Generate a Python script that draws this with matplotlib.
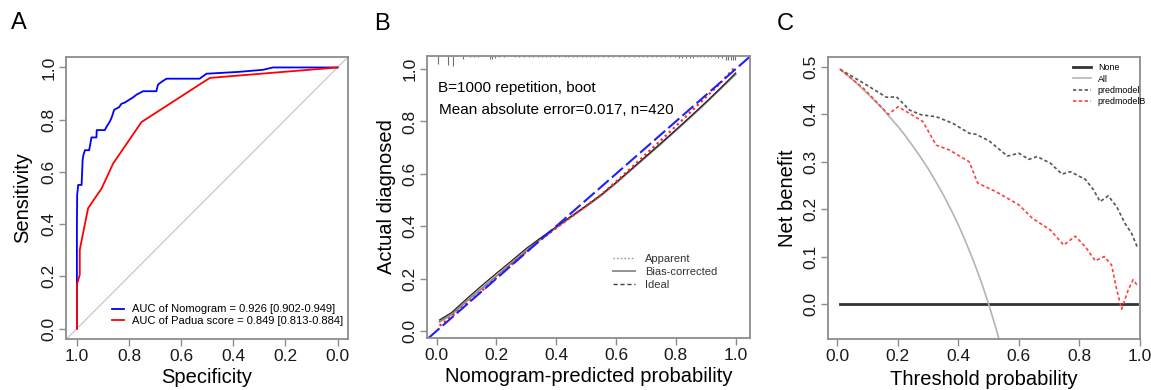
import matplotlib
matplotlib.use('Agg')
import matplotlib.pyplot as plt

plt.rcParams['font.family'] = ['Liberation Sans', 'DejaVu Sans']

# ---- panel A: ROC curves (specificity, sensitivity)
nomo_spec = [1.0, 1.0, 0.999, 0.995, 0.982, 0.978, 0.975, 0.969, 0.96, 0.953, 0.944, 0.935, 0.925,
             0.924, 0.905, 0.893, 0.885, 0.874, 0.866, 0.857, 0.838, 0.829, 0.815, 0.803, 0.785,
             0.771, 0.746, 0.72, 0.695, 0.689, 0.675, 0.656, 0.6, 0.529, 0.503, 0.45, 0.38, 0.286,
             0.248, 0.12, 0.0]
nomo_sens = [0.0, 0.384, 0.511, 0.55, 0.55, 0.645, 0.665, 0.683, 0.683, 0.683, 0.732, 0.732, 0.732,
             0.76, 0.76, 0.76, 0.775, 0.792, 0.81, 0.838, 0.848, 0.861, 0.866, 0.874, 0.885,
             0.896, 0.909, 0.909, 0.909, 0.934, 0.945, 0.957, 0.957, 0.957, 0.976, 0.979, 0.983, 0.991,
             1.0, 1.0, 1.0]
padua_spec = [1.0, 1.0, 0.989, 0.989, 0.957, 0.905, 0.861, 0.752, 0.49, 0.0]
padua_sens = [0.0, 0.168, 0.206, 0.302, 0.461, 0.537, 0.632, 0.791, 0.96, 1.0]
roc_labels = ['AUC of Nomogram = 0.926 [0.902-0.949]', 'AUC of Padua score = 0.849 [0.813-0.884]']

# ---- panel B: calibration
cal_x = [0.01, 0.05, 0.1, 0.15, 0.2, 0.25, 0.3, 0.35, 0.4, 0.45, 0.5, 0.55, 0.6, 0.65, 0.7,
         0.75, 0.8, 0.85, 0.9, 0.95, 1.0]
cal_bias = [0.042, 0.07, 0.122, 0.172, 0.22, 0.267, 0.315, 0.357, 0.398, 0.438, 0.478, 0.52,
            0.567, 0.617, 0.667, 0.717, 0.768, 0.82, 0.873, 0.928, 0.985]
cal_app = [0.035, 0.062, 0.113, 0.162, 0.21, 0.258, 0.306, 0.352, 0.394, 0.435, 0.475, 0.517,
           0.564, 0.614, 0.664, 0.714, 0.765, 0.817, 0.87, 0.925, 0.98]
cal_red = [0.02, 0.055, 0.103, 0.152, 0.203, 0.253, 0.302, 0.35, 0.393, 0.436, 0.478, 0.52,
           0.57, 0.622, 0.675, 0.728, 0.782, 0.837, 0.892, 0.948, 1.01]
rug_x = [0.006, 0.039, 0.056, 0.087, 0.112, 0.125, 0.138, 0.178, 0.184, 0.195, 0.21, 0.226,
         0.262, 0.275, 0.291, 0.31, 0.322, 0.338, 0.352, 0.367, 0.38, 0.395, 0.41, 0.428,
         0.441, 0.455, 0.47, 0.486, 0.5, 0.513, 0.528, 0.541, 0.557, 0.572, 0.59, 0.61, 0.628,
         0.645, 0.66, 0.676, 0.69, 0.705, 0.72, 0.735, 0.75, 0.764, 0.78, 0.796, 0.81, 0.822,
         0.834, 0.846, 0.858, 0.87, 0.882, 0.894, 0.906, 0.918, 0.93, 0.942, 0.955, 0.968,
         0.975, 0.984, 0.991, 0.997]
rug_len = [8, 9, 10, 3, 1, 1, 1, 3, 3, 2, 1, 1,
           1, 1, 1, 1, 1, 1, 1, 1, 1, 1, 1, 1,
           1, 1, 1, 1, 1, 1, 1, 1, 1, 1, 1, 1, 1,
           1, 1, 1, 1, 1, 1, 1, 1, 1, 1, 1, 2, 2,
           2, 2, 2, 1, 1, 1, 1, 1, 1, 2, 2, 4,
           4, 4, 4, 4]
cal_text = ['B=1000 repetition, boot', 'Mean absolute error=0.017, n=420']

# ---- panel C: decision curves
thr_all = [0.01, 0.05, 0.1, 0.15, 0.2, 0.225, 0.25, 0.275, 0.3, 0.325, 0.35, 0.375, 0.4,
           0.425, 0.45, 0.475, 0.5, 0.525, 0.55]
nb_all = [0.495, 0.474, 0.444, 0.412, 0.375, 0.355, 0.333, 0.31, 0.286, 0.259, 0.231, 0.2,
          0.167, 0.13, 0.091, 0.048, 0.0, -0.053, -0.111]
thr_none = [0.01, 0.99]
nb_none = [0.0, 0.0]
thr_m1 = [0.01, 0.087, 0.163, 0.196, 0.239, 0.278, 0.327, 0.382, 0.436, 0.458, 0.502, 0.562,
          0.6, 0.633, 0.66, 0.704, 0.742, 0.77, 0.819, 0.846, 0.868, 0.895, 0.923, 0.95,
          0.972, 0.99]
nb_m1 = [0.495, 0.466, 0.436, 0.437, 0.409, 0.399, 0.395, 0.381, 0.36, 0.358, 0.344, 0.312,
         0.318, 0.305, 0.311, 0.297, 0.274, 0.279, 0.263, 0.241, 0.216, 0.228, 0.205, 0.17,
         0.149, 0.121]
thr_m2 = [0.01, 0.087, 0.169, 0.201, 0.239, 0.283, 0.327, 0.37, 0.436, 0.464, 0.524, 0.6,
          0.644, 0.704, 0.748, 0.786, 0.819, 0.852, 0.882, 0.906, 0.923, 0.939, 0.961, 0.977,
          0.99]
nb_m2 = [0.495, 0.455, 0.4, 0.416, 0.402, 0.385, 0.335, 0.325, 0.3, 0.255, 0.237, 0.209,
         0.181, 0.156, 0.124, 0.143, 0.121, 0.091, 0.1, 0.082, 0.03, -0.011, 0.03, 0.051,
         0.04]
dca_labels = ['None', 'All', 'predmodel', 'predmodelB']

box_col = '#8c8c8c'
txt_col = '#1a1a1a'


def style_axes(ax):
    for s in ax.spines.values():
        s.set_color(box_col)
        s.set_linewidth(1.3)
    ax.tick_params(axis='both', direction='out', length=5, width=1, color=box_col,
                   labelsize=12.5, labelcolor=txt_col, pad=2, top=False, right=False)
    ax.tick_params(axis='y', labelrotation=90)
    for lab in ax.get_yticklabels():
        lab.set_va('center')


fig = plt.figure(figsize=(11.51, 3.9), dpi=100)

# A
ax = fig.add_axes([0.0573, 0.1308, 0.245, 0.723])
ax.axline((1, 0), (0, 1), color='#c8c8c8', lw=0.9)
ax.plot(nomo_spec, nomo_sens, color='#0000ff', lw=1.3, label=roc_labels[0])
ax.plot(padua_spec, padua_sens, color='#ff0000', lw=1.3, label=roc_labels[1])
ax.set_xlim(1.042, -0.04)
ax.set_ylim(-0.04, 1.04)
ax.set_xticks([1.0, 0.8, 0.6, 0.4, 0.2, 0.0])
ax.set_yticks([0.0, 0.2, 0.4, 0.6, 0.8, 1.0])
ax.xaxis.set_major_formatter(matplotlib.ticker.FormatStrFormatter('%.1f'))
ax.yaxis.set_major_formatter(matplotlib.ticker.FormatStrFormatter('%.1f'))
style_axes(ax)
ax.legend(loc='center left', bbox_to_anchor=(0.163, 0.085), borderaxespad=0, borderpad=0,
          frameon=False, fontsize=8, handlelength=1.1, handletextpad=0.7, labelspacing=0.1)
ax.text(-0.152, 0.5, 'Sensitivity', transform=ax.transAxes, rotation=90, ha='center',
        va='center', fontsize=14.5)
ax.text(0.5, -0.135, 'Specificity', transform=ax.transAxes, ha='center', va='center',
        fontsize=14.5)

# B
ax = fig.add_axes([0.371, 0.1333, 0.2806, 0.7231])
ax.vlines(rug_x, [1 - l / 282 for l in rug_len], 1, transform=ax.get_xaxis_transform(),
          color='#707070', lw=0.8)
ax.plot(cal_x, cal_app, color='#8a8a8a', lw=1.3)
ax.plot(cal_x, cal_bias, color='#202020', lw=0.9)
ax.plot(cal_x, cal_red, color='#ff2020', lw=1.6, ls=(0, (1, 1.5)))
ax.axline((0, 0), slope=1, color='#2020ff', lw=1.5, ls=(0, (7, 2)))
ax.plot([], [], color='#8a8a8a', lw=1, ls=':', label='Apparent')
ax.plot([], [], color='#8a8a8a', lw=1.3, label='Bias-corrected')
ax.plot([], [], color='#404040', lw=1, ls=(0, (3, 2)), label='Ideal')
ax.set_xlim(-0.032, 1.048)
ax.set_ylim(-0.027, 1.05)
ax.set_xticks([0.0, 0.2, 0.4, 0.6, 0.8, 1.0])
ax.set_yticks([0.0, 0.2, 0.4, 0.6, 0.8, 1.0])
ax.xaxis.set_major_formatter(matplotlib.ticker.FormatStrFormatter('%.1f'))
ax.yaxis.set_major_formatter(matplotlib.ticker.FormatStrFormatter('%.1f'))
style_axes(ax)
leg = ax.legend(loc='center left', bbox_to_anchor=(0.576, 0.234), borderaxespad=0, borderpad=0,
                frameon=False, fontsize=8, handlelength=2.0, handletextpad=0.9, labelspacing=0.26)
for t in leg.get_texts():
    t.set_color('#333333')
ax.text(0.034, 0.887, cal_text[0], transform=ax.transAxes, ha='left', va='center', fontsize=11)
ax.text(0.037, 0.809, cal_text[1], transform=ax.transAxes, ha='left', va='center', fontsize=11)
ax.text(-0.124, 0.5, 'Actual diagnosed', transform=ax.transAxes, rotation=90, ha='center',
        va='center', fontsize=14.5)
ax.text(0.5, -0.138, 'Nomogram-predicted probability', transform=ax.transAxes, ha='center',
        va='center', fontsize=14.5)

# C
ax = fig.add_axes([0.7194, 0.1308, 0.2711, 0.723])
ax.plot(thr_none, nb_none, color='#333333', lw=2, label=dca_labels[0])
ax.plot(thr_all, nb_all, color='#b4b4b4', lw=1.2, label=dca_labels[1])
ax.plot(thr_m1, nb_m1, color='#555555', lw=1.2, ls=(0, (2, 1.5)), label=dca_labels[2])
ax.plot(thr_m2, nb_m2, color='#ff4040', lw=1.2, ls=(0, (2, 1.5)), label=dca_labels[3])
ax.set_xlim(-0.03, 0.993)
ax.set_ylim(-0.074, 0.521)
ax.set_xticks([0.0, 0.2, 0.4, 0.6, 0.8, 1.0])
ax.set_yticks([0.0, 0.1, 0.2, 0.3, 0.4, 0.5])
ax.xaxis.set_major_formatter(matplotlib.ticker.FormatStrFormatter('%.1f'))
ax.yaxis.set_major_formatter(matplotlib.ticker.FormatStrFormatter('%.1f'))
style_axes(ax)
for lab in ax.get_xticklabels():
    lab.set_clip_on(False)
ax.legend(loc='center left', bbox_to_anchor=(0.785, 0.902), borderaxespad=0, borderpad=0,
          frameon=False, fontsize=6.4, handlelength=2.0, handletextpad=0.8, labelspacing=0.24)
ax.text(-0.131, 0.5, 'Net benefit', transform=ax.transAxes, rotation=90, ha='center',
        va='center', fontsize=14.5)
ax.text(0.5, -0.145, 'Threshold probability', transform=ax.transAxes, ha='center',
        va='center', fontsize=14.5)

# panel letters
fig.text(19 / 1151, 1 - 23 / 390, 'A', ha='center', va='center', fontsize=17)
fig.text(382 / 1151, 1 - 24 / 390, 'B', ha='center', va='center', fontsize=17)
fig.text(785 / 1151, 1 - 24 / 390, 'C', ha='center', va='center', fontsize=17)

fig.savefig('out.png', dpi=100)
